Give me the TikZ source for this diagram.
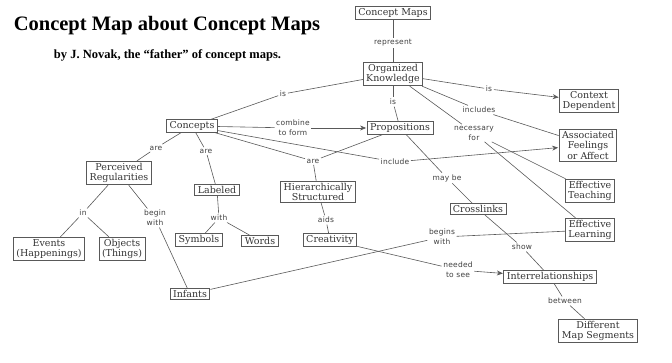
\documentclass[tikz,border=0pt]{standalone}
\usepackage{fontspec}
\setmainfont{Liberation Serif}
\newfontfamily\boxfont{DejaVu Serif}
\newfontfamily\labfont[LetterSpace=3]{DejaVu Sans}
\usetikzlibrary{arrows.meta}
\begin{document}
\begin{tikzpicture}[x=1pt,y=-1pt,
  cbox/.style={draw=black!65, line width=0.9pt,
    inner xsep=3pt, inner ysep=1.8pt, align=center, text=black!80,
    font=\boxfont\fontsize{9.5}{10.5}\selectfont},
  lbl/.style={fill=white, inner sep=1.5pt, align=center, text=black!75,
    font=\labfont\fontsize{7.5}{10}\selectfont},
  conn/.style={draw=black!65, line width=0.6pt},
  arr/.style={conn, -{Stealth[length=6pt,width=5pt]}, shorten >=0.5pt}]
\useasboundingbox (0,0) rectangle (672,363);
% titles
\node[anchor=base, font=\bfseries\fontsize{20.5}{24}\selectfont] (title) at (167,31) {Concept Map about Concept Maps};
\node[anchor=base, font=\bfseries\fontsize{12.5}{14}\selectfont] (sub) at (167.5,58.5) {by J. Novak, the “father” of concept maps.};
% concepts
\node[cbox] (cm) at (393,13) {Concept Maps};
\node[cbox] (ok) at (393,74) {Organized\\Knowledge};
\node[cbox] (ctx) at (589,101) {Context\\Dependent};
\node[cbox] (con) at (192,126) {Concepts};
\node[cbox] (prop) at (400,128) {Propositions};
\node[cbox] (aff) at (588,145) {Associated\\Feelings\\or Affect};
\node[cbox] (per) at (119,173) {Perceived\\Regularities};
\node[cbox] (lab) at (217,190) {Labeled};
\node[cbox] (hie) at (318,192) {Hierarchically\\Structured};
\node[cbox] (tea) at (590,191) {Effective\\Teaching};
\node[cbox] (cross) at (478,209) {Crosslinks};
\node[cbox] (lea) at (590,230) {Effective\\Learning};
\node[cbox] (sym) at (199,240) {Symbols};
\node[cbox] (wor) at (260,241) {Words};
\node[cbox] (cre) at (330,240) {Creativity};
\node[cbox] (eve) at (49,249) {Events\\(Happenings)};
\node[cbox] (obj) at (122,249) {Objects\\(Things)};
\node[cbox] (inf) at (190,294) {Infants};
\node[cbox] (inter) at (550,277) {Interrelationships};
\node[cbox] (dms) at (598,331) {Different\\Map Segments};
% link labels
\node[lbl] (l1) at (393,43) {represent};
\node[lbl] (l2) at (283,94) {is};
\node[lbl] (l3) at (393,102) {is};
\node[lbl] (l4) at (489,89) {is};
\node[lbl] (l5) at (479,110) {includes};
\node[lbl] (l6) at (474,133) {necessary\\for};
\node[lbl] (l7) at (293,128) {combine\\to form};
\node[lbl] (l8) at (156,148) {are};
\node[lbl] (l9) at (206,151) {are};
\node[lbl] (l10) at (313,161) {are};
\node[lbl] (l11) at (395,162) {include};
\node[lbl] (l12) at (447,178) {may be};
\node[lbl] (l13) at (83,213) {in};
\node[lbl] (l14) at (155,218) {begin\\with};
\node[lbl] (l15) at (219,218) {with};
\node[lbl] (l16) at (326,220) {aids};
\node[lbl] (l17) at (442,237) {begins\\with};
\node[lbl] (l18) at (522,247) {show};
\node[lbl] (l19) at (458,270) {needed\\to see};
\node[lbl] (l20) at (565,301) {between};
% connectors
\draw[conn] (cm) -- (l1); \draw[conn] (l1) -- (ok);
\draw[conn] (ok) -- (l2); \draw[conn] (l2) -- (con);
\draw[conn] (ok) -- (l3); \draw[conn] (l3) -- (prop);
\draw[conn] (ok) -- (l4); \draw[arr] (l4) -- (ctx);
\draw[conn] (ok) -- (l5); \draw[conn] (l5) -- (aff);
\draw[conn] (ok) -- (l6); \draw[conn] (l6) -- (tea); \draw[conn] (l6) -- (lea);
\draw[conn] (con) -- (l7); \draw[arr] (l7) -- (prop);
\draw[conn] (con) -- (l8); \draw[conn] (l8) -- (per);
\draw[conn] (con) -- (l9); \draw[conn] (l9) -- (lab);
\draw[conn] (con) -- (l10); \draw[conn] (prop) -- (l10); \draw[conn] (l10) -- (hie);
\draw[conn] (con) -- (l11); \draw[arr] (l11) -- (aff);
\draw[conn] (prop) -- (l12); \draw[conn] (l12) -- (cross);
\draw[conn] (per) -- (l13); \draw[conn] (l13) -- (eve); \draw[conn] (l13) -- (obj);
\draw[conn] (per) -- (l14); \draw[conn] (l14) -- (inf);
\draw[conn] (lab) -- (l15); \draw[conn] (l15) -- (sym); \draw[conn] (l15) -- (wor);
\draw[conn] (hie) -- (l16); \draw[conn] (l16) -- (cre);
\draw[conn] (lea) -- (l17); \draw[conn] (l17) -- (inf);
\draw[conn] (cross) -- (l18); \draw[conn] (l18) -- (inter);
\draw[conn] (cre) -- (l19); \draw[arr] (l19) -- (inter);
\draw[conn] (inter) -- (l20); \draw[conn] (l20) -- (dms);
\end{tikzpicture}
\end{document}
